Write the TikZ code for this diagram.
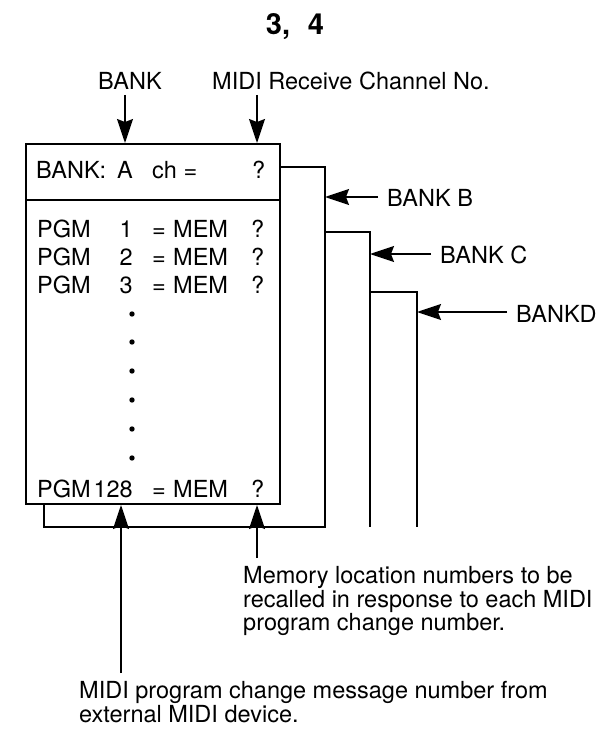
\documentclass[tikz,border=0pt]{standalone}
\usepackage{fontspec}
\setmainfont{TeX Gyre Heros}
\usetikzlibrary{arrows.meta}
\begin{document}
\begin{tikzpicture}[x=1pt,y=-1pt,
  box/.style={line width=1.9pt, line join=miter},
  arr/.style={line width=1.5pt,-{Stealth[length=24pt,width=16pt,inset=3pt]}},
  txt/.style={font=\fontsize{23.5}{20.5}\selectfont, inner sep=0pt, anchor=base west},
  txtr/.style={txt, anchor=base east},
  para/.style={font=\fontsize{23.5}{20.5}\selectfont, inner sep=0pt, anchor=north west, align=left},
  dotm/.style={fill=black}
]
\useasboundingbox (0,0) rectangle (611,733);

% title
\node[font=\bfseries\fontsize{29}{30}\selectfont, inner sep=0pt, anchor=base] (title) at (295,35) {3,\,\, 4};

% top labels
\node[txt] (lbank) at (98,90) {BANK};
\node[txt] (lmidi) at (212,90) {MIDI Receive Channel No.};

% main box A
\node[draw, box, minimum width=254pt, minimum height=360pt, inner sep=0pt, outer sep=0pt] (boxA) at (153,324) {};
\draw[box] (boxA.west |- 0,200) -- (boxA.east |- 0,200);

% stacked banks B, C, D
\draw[box] (44,504) -- (44,527) -- (325,527) -- (325,167) -- (boxA.east |- 0,167);
\draw[box] (325,232) -- (370,232) -- (370,527);
\draw[box] (370,292) -- (417,292) -- (417,527);

% header row
\node[txt] (hbank) at (36,178) {BANK:};
\node[txt] (hA) at (117,178) {A};
\node[txt] (hch) at (152,178) {ch =};
\node[txt] (hq) at (252,178) {?};

% program rows
\node[txt] (p1) at (37,237) {PGM};
\node[txtr] (n1) at (133,237) {1};
\node[txt] (e1) at (152,237) {=};
\node[txt] (m1) at (173,237) {MEM};
\node[txt] (q1) at (251,237) {?};

\node[txt] (p2) at (37,265) {PGM};
\node[txtr] (n2) at (133,265) {2};
\node[txt] (e2) at (152,265) {=};
\node[txt] (m2) at (173,265) {MEM};
\node[txt] (q2) at (251,265) {?};

\node[txt] (p3) at (37,293) {PGM};
\node[txtr] (n3) at (133,293) {3};
\node[txt] (e3) at (152,293) {=};
\node[txt] (m3) at (173,293) {MEM};
\node[txt] (q3) at (251,293) {?};

\foreach \yy in {314,342,371,400,429,458} \fill[dotm] (132,\yy) circle (2.7);

\node[txt] (p128) at (37,497) {PGM};
\node[txtr] (n128) at (133,497) {128};
\node[txt] (e128) at (152,497) {=};
\node[txt] (m128) at (173,497) {MEM};
\node[txt] (q128) at (251,497) {?};

% arrows from top labels
\coordinate (bankTail) at (125,95);
\coordinate (bankTip) at (125,143);
\draw[arr] (bankTail) -- (bankTip);
\coordinate (chTail) at (257,95);
\coordinate (chTip) at (257,143);
\draw[arr] (chTail) -- (chTip);

% bank labels on right
\node[txt] (lB) at (387,206) {BANK B};
\node[txt] (lC) at (440,263) {BANK C};
\node[txt] (lD) at (516,322) {BANKD};
\coordinate (tipB) at (325,197);
\coordinate (tipC) at (370,254);
\coordinate (tipD) at (417,312);
\draw[arr] (378,197) -- (tipB);
\draw[arr] (431,254) -- (tipC);
\draw[arr] (507,312) -- (tipD);

% bottom arrows
\coordinate (memTip) at (257,505);
\coordinate (memTail) at (257,558);
\draw[arr] (memTail) -- (memTip);
\coordinate (pgmTip) at (121,505);
\coordinate (pgmTail) at (121,673);
\draw[arr] (pgmTail) -- (pgmTip);

% explanatory texts
\node[para] (memtxt) at (243,566.5) {Memory location numbers to be\\recalled in response to each MIDI\\program change number.};
\node[para] (pgmtxt) at (79,681.5) {MIDI program change message number from\\external MIDI device.};
\end{tikzpicture}
\end{document}
